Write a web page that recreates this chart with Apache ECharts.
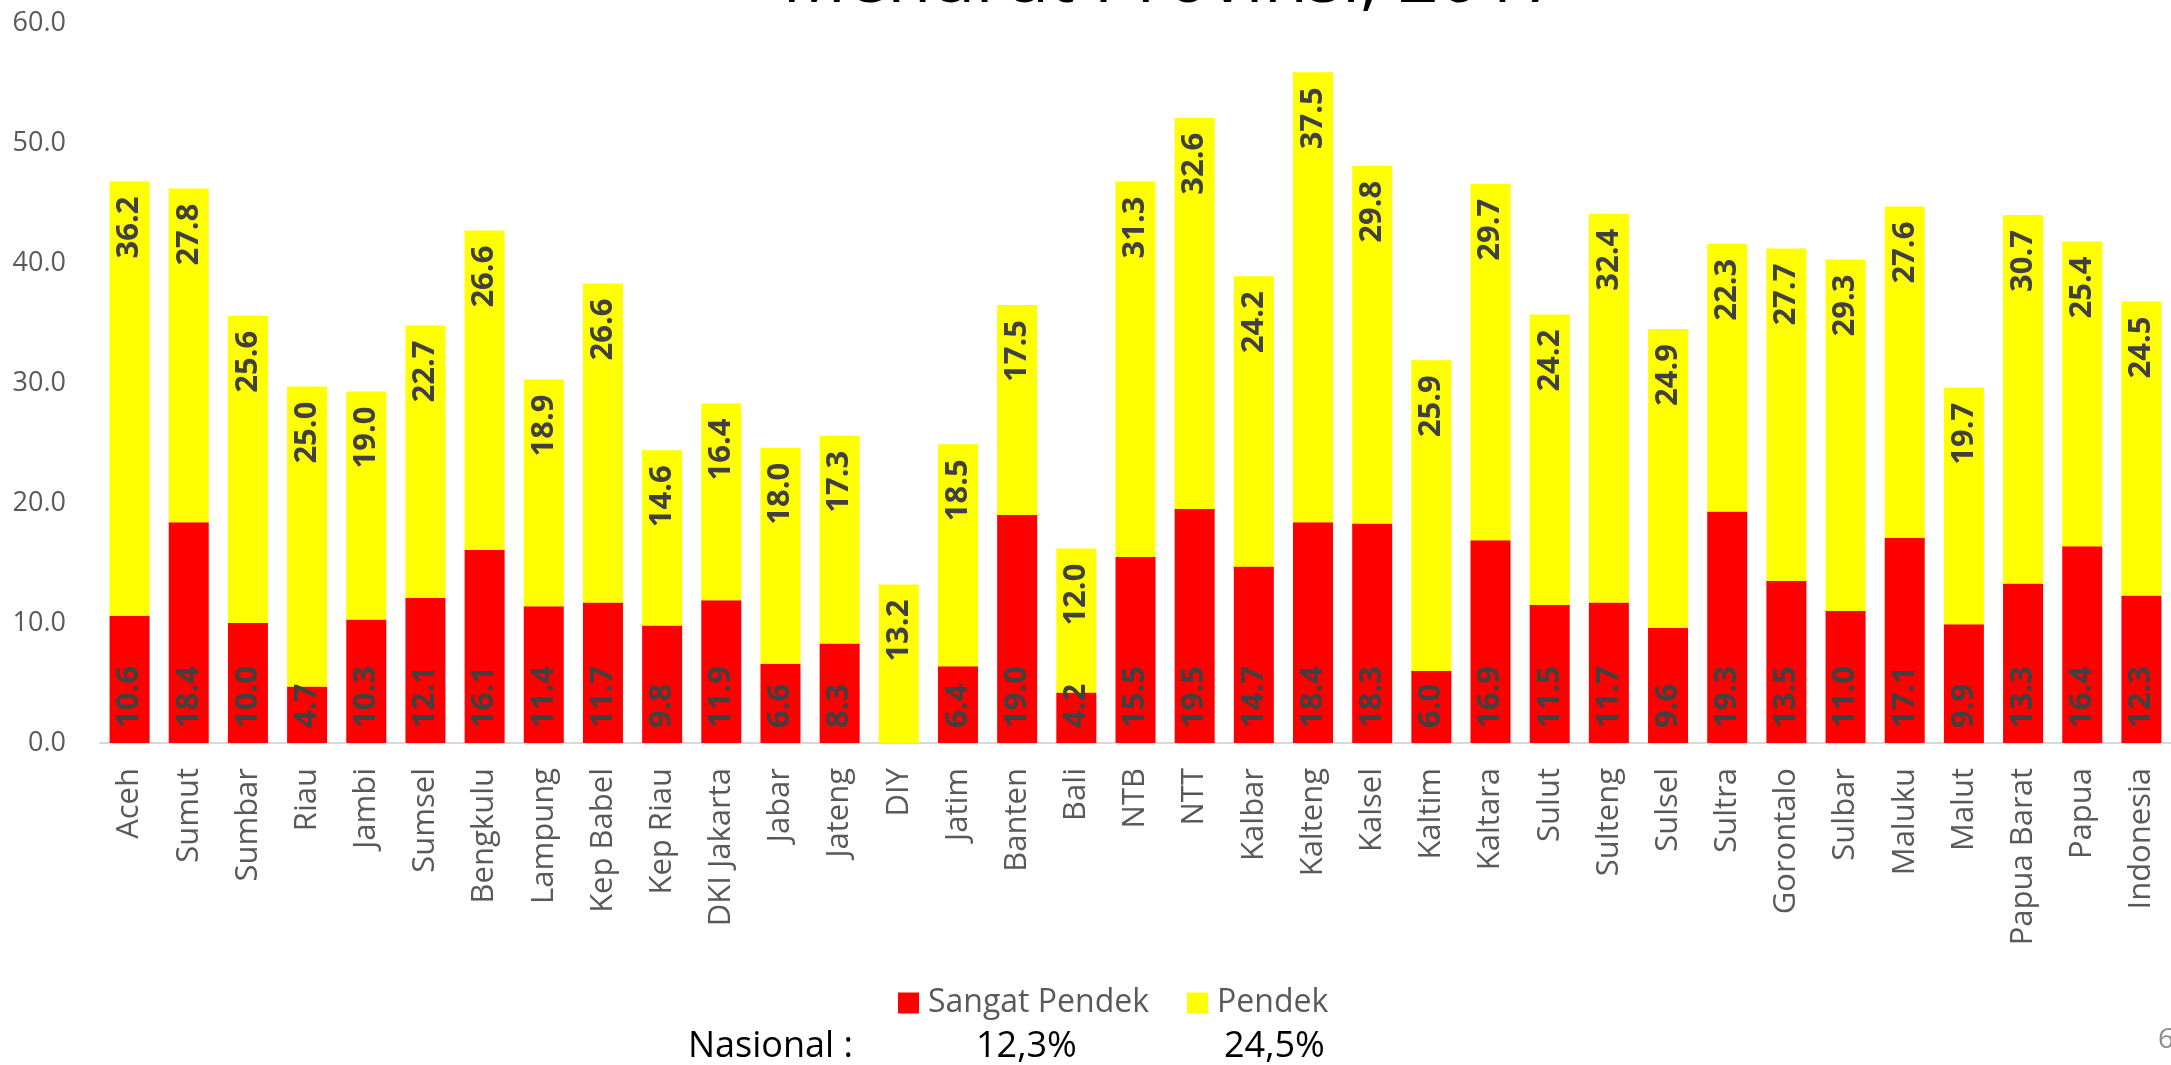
<!DOCTYPE html>
<html lang="id">
  <head>
    <meta charset="UTF-8" />
    <title>Balita Sangat Pendek dan Pendek Menurut Provinsi, 2017</title>
    <style>
      html, body { margin: 0; padding: 0; background: #fff; }
      #main { width: 2171px; height: 1065px; }
    </style>
  </head>
  <body>
    <div id="main"></div>
    <script src="https://cdn.jsdelivr.net/npm/echarts@6/dist/echarts.min.js"></script>
    <script>
      /* globals echarts */

      var provinces = [
        "Aceh", "Sumut", "Sumbar", "Riau", "Jambi", "Sumsel", "Bengkulu",
        "Lampung", "Kep Babel", "Kep Riau", "DKI Jakarta", "Jabar", "Jateng",
        "DIY", "Jatim", "Banten", "Bali", "NTB", "NTT", "Kalbar", "Kalteng",
        "Kalsel", "Kaltim", "Kaltara", "Sulut", "Sulteng", "Sulsel", "Sultra",
        "Gorontalo", "Sulbar", "Maluku", "Malut", "Papua Barat", "Papua",
        "Indonesia"
      ];

      // Sangat Pendek (red) - DIY has no value in the source chart
      var sangatPendek = [
        10.6, 18.4, 10.0, 4.7, 10.3, 12.1, 16.1,
        11.4, 11.7, 9.8, 11.9, 6.6, 8.3,
        null, 6.4, 19.0, 4.2, 15.5, 19.5, 14.7, 18.4,
        18.3, 6.0, 16.9, 11.5, 11.7, 9.6, 19.3,
        13.5, 11.0, 17.1, 9.9, 13.3, 16.4,
        12.3
      ];

      // Pendek (yellow)
      var pendek = [
        36.2, 27.8, 25.6, 25.0, 19.0, 22.7, 26.6,
        18.9, 26.6, 14.6, 16.4, 18.0, 17.3,
        13.2, 18.5, 17.5, 12.0, 31.3, 32.6, 24.2, 37.5,
        29.8, 25.9, 29.7, 24.2, 32.4, 24.9, 22.3,
        27.7, 29.3, 27.6, 19.7, 30.7, 25.4,
        24.5
      ];

      var seriesNames = ["Sangat Pendek", "Pendek"];
      var nasional = ["12,3%", "24,5%"];

      var font = "'Open Sans', 'Liberation Sans', sans-serif";

      function fmt(p) {
        return p.value == null ? "" : p.value.toFixed(1);
      }

      function barLabel(pos, align) {
        return {
          show: true,
          position: pos,
          rotate: 90,
          align: align,
          verticalAlign: "middle",
          distance: 15,
          color: "#404040",
          fontWeight: "bold",
          fontSize: 31,
          fontFamily: font,
          formatter: fmt
        };
      }

      var chart = echarts.init(document.getElementById("main"));

      var option = {
        animation: false,
        backgroundColor: "#fff",
        grid: { left: 100, top: 23, width: 2082, height: 720, containLabel: false },
        legend: {
          data: seriesNames,
          left: 893,
          top: 982,
          itemWidth: 21,
          itemHeight: 21,
          itemGap: 38,
          icon: "rect",
          textStyle: { color: "#595959", fontSize: 32, fontFamily: font, padding: [0, 0, 0, 4] }
        },
        xAxis: {
          type: "category",
          data: provinces,
          axisLine: { lineStyle: { color: "#d9d9d9", width: 2 } },
          axisTick: { show: false },
          axisLabel: {
            rotate: 90,
            interval: 0,
            margin: 25,
            color: "#595959",
            fontSize: 31,
            fontFamily: font
          }
        },
        yAxis: {
          type: "value",
          min: 0,
          max: 60,
          interval: 10,
          splitLine: { show: false },
          axisLine: { show: false },
          axisTick: { show: false },
          axisLabel: {
            margin: 34,
            color: "#595959",
            fontSize: 27,
            fontFamily: font,
            formatter: function (v) { return v.toFixed(1); }
          }
        },
        series: [
          {
            name: seriesNames[0],
            type: "bar",
            stack: "total",
            data: sangatPendek,
            barWidth: 40,
            itemStyle: { color: "#ff0000" },
            label: barLabel("insideBottom", "left")
          },
          {
            name: seriesNames[1],
            type: "bar",
            stack: "total",
            data: pendek,
            barWidth: 40,
            itemStyle: { color: "#ffff00" },
            label: barLabel("insideTop", "right")
          }
        ],
        graphic: [
          {
            type: "text",
            left: 782,
            top: -55,
            style: {
              text: "Menurut Provinsi, 2017",
              fill: "#000",
              font: "72px " + font
            }
          },
          {
            type: "text",
            left: 688,
            top: 1029,
            style: { text: "Nasional :", fill: "#000", font: "36px " + font }
          },
          {
            type: "text",
            left: 976,
            top: 1029,
            style: { text: nasional[0], fill: "#000", font: "36px " + font }
          },
          {
            type: "text",
            left: 1224,
            top: 1029,
            style: { text: nasional[1], fill: "#000", font: "36px " + font }
          },
          {
            type: "text",
            left: 2158,
            top: 1026,
            style: { text: "6", fill: "#8c8c8c", font: "28px " + font }
          }
        ]
      };

      chart.setOption(option);
    </script>
  </body>
</html>
